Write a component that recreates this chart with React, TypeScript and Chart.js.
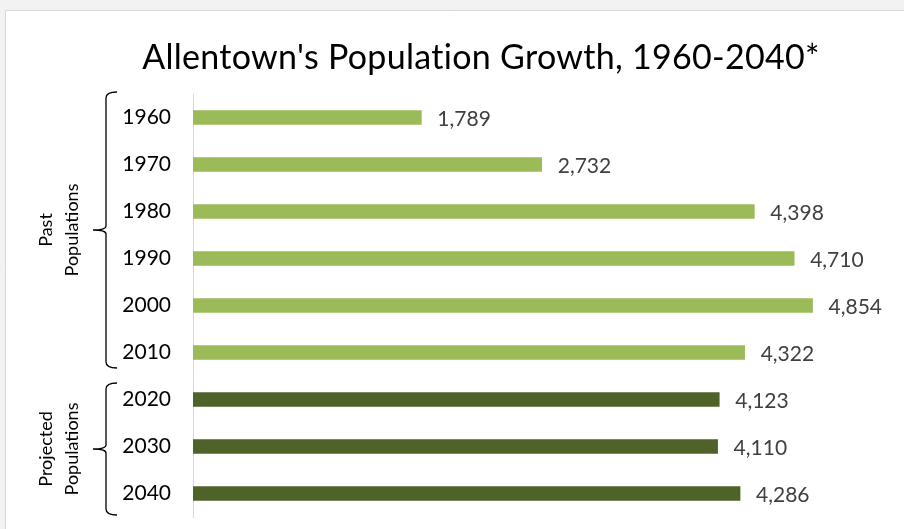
import React, { useEffect, useRef } from "react";
import { Chart, registerables } from "chart.js";

Chart.register(...registerables);

const years = ["1960", "1970", "1980", "1990", "2000", "2010", "2020", "2030", "2040"];
const population = [1789, 2732, 4398, 4710, 4854, 4322, 4123, 4110, 4286];
const kinds = ["past", "past", "past", "past", "past", "past", "projected", "projected", "projected"];
const groups = [
  { lines: ["Past", "Populations"], from: 0, to: 5 },
  { lines: ["Projected", "Populations"], from: 6, to: 8 },
];
const titleText = "Allentown's Population Growth, 1960-2040*";

const PAST = "#9BBB59";
const PROJ = "#4F6228";
const FONT = "Lato, 'Open Sans', sans-serif";

const decor = {
  id: "decor",
  beforeDraw(chart: any) {
    const { ctx, width, height } = chart;
    ctx.save();
    ctx.fillStyle = "#f2f2f2";
    ctx.fillRect(0, 0, width, height);
    ctx.fillStyle = "#ffffff";
    ctx.fillRect(5, 10, width - 5, height - 10);
    ctx.strokeStyle = "#d9d9d9";
    ctx.lineWidth = 1;
    ctx.beginPath();
    ctx.moveTo(5.5, height);
    ctx.lineTo(5.5, 10.5);
    ctx.lineTo(width, 10.5);
    ctx.stroke();
    // title
    ctx.fillStyle = "#000000";
    ctx.font = `34px ${FONT}`;
    (ctx as any).letterSpacing = "0.3px";
    ctx.textAlign = "center";
    ctx.textBaseline = "middle";
    ctx.fillText(titleText, 481, 58);
    (ctx as any).letterSpacing = "0px";
    ctx.restore();
  },
  afterDraw(chart: any) {
    const { ctx } = chart;
    const y = chart.scales.y;
    const x = chart.scales.x;
    const meta = chart.getDatasetMeta(0);
    const step = Math.abs(y.getPixelForValue(1) - y.getPixelForValue(0));
    ctx.save();
    // data labels
    ctx.font = `21px ${FONT}`;
    ctx.fillStyle = "#404040";
    ctx.textAlign = "left";
    ctx.textBaseline = "middle";
    meta.data.forEach((bar: any, i: number) => {
      const v = population[i];
      ctx.fillText(v.toLocaleString("en-US"), x.getPixelForValue(v) + 16, bar.y + 2);
    });
    // braces
    ctx.strokeStyle = "#000000";
    ctx.lineWidth = 1.3;
    groups.forEach((g) => {
      const bandTop = y.getPixelForValue(g.from) - step / 2;
      const bandBot = y.getPixelForValue(g.to) + step / 2;
      const top = g.from === 0 ? bandTop - 2 : bandTop + 7;
      const bot = g.to === years.length - 1 ? bandBot - 2 : bandBot - 8;
      const mid = (top + bot) / 2;
      const bx = 106;
      ctx.beginPath();
      ctx.moveTo(117, top);
      ctx.quadraticCurveTo(bx, top, bx, top + 6);
      ctx.lineTo(bx, mid - 4);
      ctx.quadraticCurveTo(bx, mid, 93, mid);
      ctx.quadraticCurveTo(bx, mid, bx, mid + 4);
      ctx.lineTo(bx, bot - 6);
      ctx.quadraticCurveTo(bx, bot, 117, bot);
      ctx.stroke();
      ctx.save();
      ctx.translate(59, mid);
      ctx.rotate(-Math.PI / 2);
      ctx.fillStyle = "#000000";
      ctx.font = `18px ${FONT}`;
      ctx.textAlign = "center";
      ctx.textBaseline = "middle";
      ctx.fillText(g.lines[0], 0, -13);
      ctx.fillText(g.lines[1], 0, 13);
      ctx.restore();
    });
    ctx.restore();
  },
};

export default function App() {
  const ref = useRef<HTMLCanvasElement>(null);
  useEffect(() => {
    if (!ref.current) return;
    const chart = new Chart(ref.current, {
      type: "bar",
      data: {
        labels: years,
        datasets: [
          {
            data: population,
            backgroundColor: kinds.map((k) => (k === "past" ? PAST : PROJ)),
            barThickness: 14,
          },
        ],
      },
      options: {
        indexAxis: "y",
        animation: false,
        responsive: false,
        maintainAspectRatio: false,
        layout: { padding: { top: 94, bottom: 12, left: 0, right: 9 } },
        plugins: { legend: { display: false }, tooltip: { enabled: false }, title: { display: false } },
        scales: {
          x: { display: false, min: 0, max: 5500 },
          y: {
            grid: { display: false, drawTicks: false },
            border: { display: true, color: "#d9d9d9", width: 1 },
            ticks: { color: "#000000", font: { family: FONT, size: 21 }, padding: 22 },
            afterFit(scale: any) {
              scale.width = 193;
              scale.paddingTop = 0;
              scale.paddingBottom = 0;
            },
          },
        },
      },
      plugins: [decor],
    });
    return () => chart.destroy();
  }, []);
  return (
    <div style={{ position: "fixed", left: 0, top: 0, width: 904, height: 529 }}>
      <canvas ref={ref} width={904} height={529} style={{ width: 904, height: 529 }} />
    </div>
  );
}
